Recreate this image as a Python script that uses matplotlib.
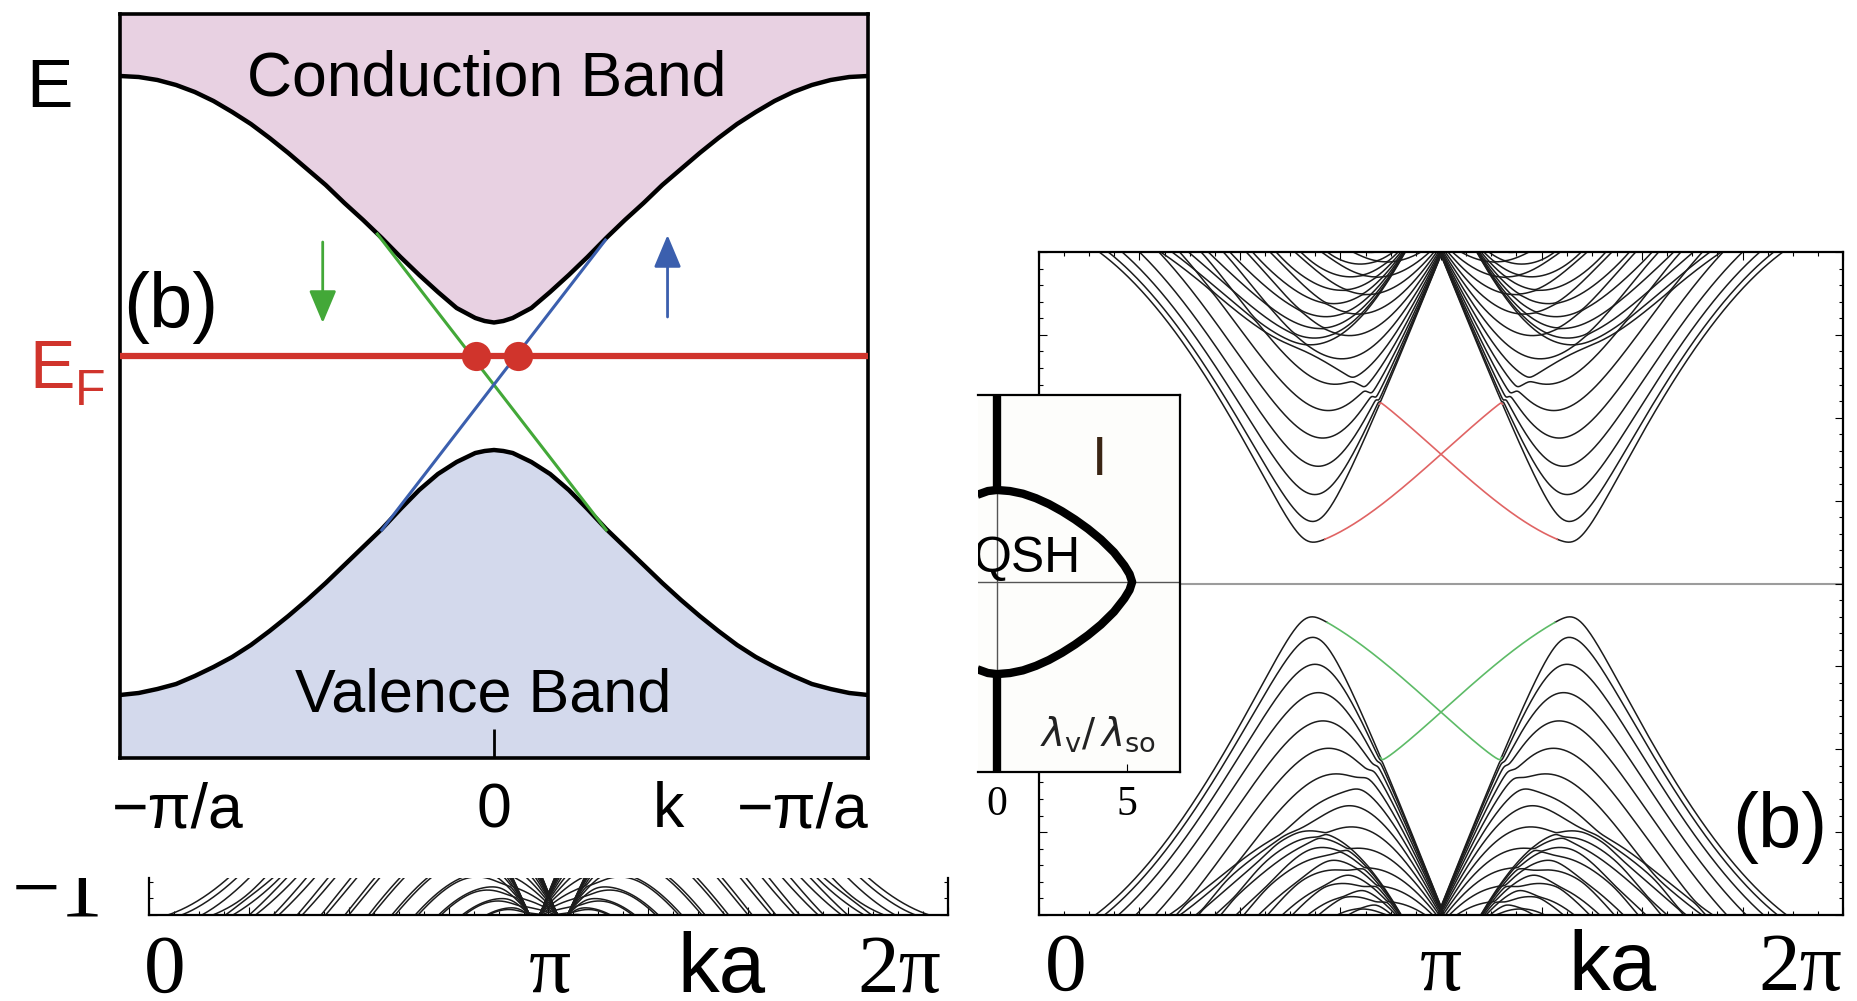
import numpy as np
import matplotlib
matplotlib.use('Agg')
import matplotlib.pyplot as plt
from matplotlib import transforms
from matplotlib.patches import Rectangle
from matplotlib.ticker import MultipleLocator

plt.rcParams['font.family'] = ['Liberation Sans', 'DejaVu Sans']
SERIF = ['Liberation Serif', 'DejaVu Serif']

W, H = 1858, 1001

# ---------------- left panel: schematic bands (k in pi/a, E with midgap = 0)
BAND_K = [-1.0, -0.95, -0.9, -0.85, -0.8, -0.75, -0.7, -0.65, -0.6, -0.55, -0.5,
          -0.45, -0.4, -0.35, -0.3, -0.25, -0.2, -0.15, -0.1, -0.05, -0.025, 0.0,
          0.025, 0.05, 0.1, 0.15, 0.2, 0.25, 0.3, 0.35, 0.4, 0.45, 0.5,
          0.55, 0.6, 0.65, 0.7, 0.75, 0.8, 0.85, 0.9, 0.95, 1.0]
CB_E = [3.10, 3.09, 3.06, 3.01, 2.94, 2.85, 2.74, 2.62, 2.48, 2.33, 2.17,
        2.01, 1.83, 1.66, 1.48, 1.29, 1.11, 0.94, 0.78, 0.68, 0.65, 0.635,
        0.65, 0.68, 0.78, 0.94, 1.11, 1.29, 1.48, 1.66, 1.83, 2.01, 2.17,
        2.33, 2.48, 2.62, 2.74, 2.85, 2.94, 3.01, 3.06, 3.09, 3.10]
VB_E = [-3.09, -3.07, -3.03, -2.98, -2.90, -2.81, -2.71, -2.59, -2.45, -2.30, -2.14,
        -1.97, -1.79, -1.61, -1.43, -1.23, -1.04, -0.88, -0.76, -0.67, -0.65, -0.64,
        -0.65, -0.67, -0.76, -0.88, -1.04, -1.23, -1.43, -1.61, -1.79, -1.97, -2.14,
        -2.30, -2.45, -2.59, -2.71, -2.81, -2.90, -2.98, -3.03, -3.07, -3.09]
E_FERMI = 0.30
GREEN_K = [-0.312, 0.30]
GREEN_E = [1.52, -1.44]
BLUE_K = [-0.30, 0.298]
BLUE_E = [-1.44, 1.46]
DOT_K = [-0.047, 0.063]
GREEN_ARROW = (-0.458, 1.44, 0.63)   # k, start, tip
BLUE_ARROW = (0.464, 0.69, 1.51)
LEFT_XTICK_POS = [-0.845, 0.0, 0.465, 0.826]
LEFT_XTICK_LABELS = ['\u2212\u03c0/a', '0', 'k', '\u2212\u03c0/a']

# ---------------- right panels: Kane-Mele zigzag ribbon
T_HOP = 1.0
LAMBDA_SO = 0.06
LAMBDA_R = 0.05
LAMBDA_V_B = 0.4     # insulating phase, panel (b)
LAMBDA_V_A = 0.1     # QSH phase, panel (a) strip
N_CHAINS = 32
RIGHT_XTICK_POS = [0.21, np.pi, 4.478, 5.947]
STRIP_XTICK_POS = [0.126, 3.15, 4.50, 5.90]
XTICK_LABELS = ['0', '\u03c0', 'ka', '2\u03c0']

# ---------------- inset: phase diagram
INSET_LV = [-0.75, -0.35, 0.0, 0.5, 1.0, 1.5, 2.0, 2.5, 3.0, 3.5, 4.0, 4.5, 4.9, 5.1, 5.2,
            5.1, 4.9, 4.5, 4.0, 3.5, 3.0, 2.5, 2.0, 1.5, 1.0, 0.5, 0.0, -0.35, -0.75]
INSET_LR = [3.28, 3.42, 3.46, 3.42, 3.32, 3.15, 2.93, 2.66, 2.35, 2.00, 1.60, 1.12, 0.62, 0.30, 0.0,
            -0.30, -0.62, -1.12, -1.60, -2.00, -2.35, -2.66, -2.93, -3.15, -3.32, -3.42, -3.46, -3.42, -3.28]
GAPLESS_LR = [3.46, 9.0]

PINK = '#e8d1e2'
LIGHTBLUE = '#d3d9ec'
RED = '#d0342c'
GREEN = '#43a838'
BLUE = '#3b5fae'


def box(x0, y0, x1, y1):
    return [x0 / W, 1 - y1 / H, (x1 - x0) / W, (y1 - y0) / H]


def ribbon_blocks(n_chains, lam_v):
    a1 = np.array([1.0, 0.0])
    a2 = np.array([0.5, np.sqrt(3) / 2])
    b = np.array([0.5, 0.5 / np.sqrt(3)])
    pos = np.array([m * a2 + s * b for m in range(n_chains) for s in (0, 1)])
    stag = np.tile([1.0, -1.0], n_chains)
    ns = len(pos)
    s0 = np.eye(2, dtype=complex)
    sx = np.array([[0, 1], [1, 0]], dtype=complex)
    sy = np.array([[0, -1j], [1j, 0]])
    sz = np.array([[1, 0], [0, -1]], dtype=complex)
    nn = [[] for _ in range(ns)]
    for i in range(ns):
        for j in range(ns):
            if abs(pos[j, 1] - pos[i, 1]) > 0.7:
                continue
            for n in (-1, 0, 1):
                d = pos[j] + n * a1 - pos[i]
                if abs(np.hypot(d[0], d[1]) - 1 / np.sqrt(3)) < 1e-6:
                    nn[i].append((j, n, d * np.sqrt(3)))
    blocks = {n: np.zeros((2 * ns, 2 * ns), dtype=complex) for n in range(-2, 3)}

    def add(i, j, n, m):
        blocks[n][2 * i:2 * i + 2, 2 * j:2 * j + 2] += m

    for i in range(ns):
        add(i, i, 0, lam_v * stag[i] * s0)
        for j, n, d in nn[i]:
            add(i, j, n, T_HOP * s0 + 1j * LAMBDA_R * (sx * d[1] - sy * d[0]))
            for l, n2, d2 in nn[j]:
                if l == i and n + n2 == 0:
                    continue
                nu = np.sign(d[0] * d2[1] - d[1] * d2[0])
                add(i, l, n + n2, 1j * LAMBDA_SO * nu * sz)
    return blocks


def ribbon_bands(n_chains, lam_v, ka):
    blocks = ribbon_blocks(n_chains, lam_v)
    dim = 4 * n_chains
    edge = np.r_[0:8, dim - 8:dim]
    ens, wts = [], []
    for k in ka:
        h = sum(bl * np.exp(1j * k * n) for n, bl in blocks.items())
        e, v = np.linalg.eigh(h)
        ens.append(e)
        wts.append((np.abs(v[edge]) ** 2).sum(axis=0))
    return np.array(ens), np.array(wts)


fig = plt.figure(figsize=(W / 100, H / 100), dpi=100)

# ================= left panel
ax = fig.add_axes(box(120, 14, 868, 758))
ax.set_xlim(-1, 1)
ax.set_ylim(-3.72, 3.72)
top, bot = ax.get_ylim()[1], ax.get_ylim()[0]
ax.fill_between(BAND_K, CB_E, top, color=PINK, lw=0, zorder=1)
ax.fill_between(BAND_K, VB_E, bot, color=LIGHTBLUE, lw=0, zorder=1)
ax.plot(BAND_K, CB_E, color='black', lw=3.2, zorder=2)
ax.plot(BAND_K, VB_E, color='black', lw=3.2, zorder=2)
ax.plot(GREEN_K, GREEN_E, color=GREEN, lw=2.2, zorder=3)
ax.plot(BLUE_K, BLUE_E, color=BLUE, lw=2.2, zorder=3)
ax.axhline(E_FERMI, color=RED, lw=4.5, zorder=4)
ax.plot(DOT_K, [E_FERMI] * len(DOT_K), 'o', ms=21, color=RED, mec='none', zorder=5)
for (k, e0, e1), c in ((GREEN_ARROW, GREEN), (BLUE_ARROW, BLUE)):
    ax.annotate('', xy=(k, e1), xytext=(k, e0),
                arrowprops=dict(arrowstyle='-|>,head_length=1.0,head_width=0.42',
                                color=c, lw=2, mutation_scale=20, shrinkA=0, shrinkB=0))
ax.text(-0.02, 2.91, 'Conduction Band', fontsize=45, ha='center', va='baseline', zorder=6)
ax.text(-0.03, -3.26, 'Valence Band', fontsize=44, ha='center', va='baseline', zorder=6)
for s in ax.spines.values():
    s.set_linewidth(2.6)
ax.set_xticks([0])
ax.set_xticklabels([])
ax.set_yticks([])
ax.tick_params(axis='x', direction='in', length=21, width=2)
ltr = transforms.blended_transform_factory(ax.transData, fig.transFigure)
for x, lab in zip(LEFT_XTICK_POS, LEFT_XTICK_LABELS):
    fig.text(x, 1 - 827 / H, lab, transform=ltr, fontsize=45, ha='center', va='baseline')

fig.text(49 / W, 1 - 107 / H, 'E', fontsize=50, ha='center', va='baseline')
fig.text(29 / W, 1 - 388 / H, 'E', fontsize=49, ha='left', va='baseline', color=RED)
fig.text(75 / W, 1 - 405 / H, 'F', fontsize=36, ha='left', va='baseline', color=RED)
fig.text(171 / W, 1 - 328 / H, '(b)', fontsize=56, ha='center', va='baseline')

# ================= right panel (b)
ka = np.linspace(0, 2 * np.pi, 721)
eb, wb = ribbon_bands(N_CHAINS, LAMBDA_V_B, ka)
nb = eb.shape[1] // 2

axr = fig.add_axes(box(1039, 252, 1843, 915))
axr.set_xlim(0, 2 * np.pi)
axr.set_ylim(-1, 1)
axr.axhline(0, color='#9c9c9c', lw=1.5, zorder=1)
for b in range(eb.shape[1]):
    e = eb[:, b]
    if b in (nb - 2, nb - 1, nb, nb + 1):
        edge = wb[:, b] > 0.38
        grow = edge | np.r_[edge[1:], False] | np.r_[False, edge[:-1]]
        axr.plot(ka, np.where(edge, np.nan, e), color='#1c1c1c', lw=1.1)
        axr.plot(ka, np.where(grow, e, np.nan), color='#e06464' if b >= nb else '#5dbb67', lw=1.2)
    else:
        axr.plot(ka, e, color='#1c1c1c', lw=1.1)
for s in axr.spines.values():
    s.set_linewidth(1.6)
axr.xaxis.set_major_locator(MultipleLocator(np.pi / 4))
axr.xaxis.set_minor_locator(MultipleLocator(np.pi / 16))
axr.yaxis.set_major_locator(MultipleLocator(0.25))
axr.yaxis.set_minor_locator(MultipleLocator(0.05))
axr.tick_params(which='both', direction='in', top=True, right=True,
                labelbottom=False, labelleft=False, width=0.8)
axr.tick_params(which='major', length=6)
axr.tick_params(which='minor', length=3)
rtr = transforms.blended_transform_factory(axr.transData, fig.transFigure)
for x, lab in zip(RIGHT_XTICK_POS, XTICK_LABELS):
    fig.text(x, 1 - 990 / H, lab, transform=rtr, fontsize=60, ha='center', va='baseline',
             family=['Liberation Sans'] if lab == 'ka' else SERIF)
fig.text(1780 / W, 1 - 848 / H, '(b)', fontsize=56, ha='center', va='baseline')

# ================= strip of panel (a)
ea, _ = ribbon_bands(N_CHAINS, LAMBDA_V_A, ka)
axs = fig.add_axes(box(149, 878, 948, 915))
axs.set_xlim(0, 2 * np.pi)
axs.set_ylim(-1, -1 + 37 / 331.5)
for b in range(ea.shape[1]):
    axs.plot(ka, ea[:, b], color='#1c1c1c', lw=1.1)
axs.spines['top'].set_visible(False)
for s in ('left', 'right', 'bottom'):
    axs.spines[s].set_linewidth(1.6)
axs.xaxis.set_major_locator(MultipleLocator(np.pi / 4))
axs.xaxis.set_minor_locator(MultipleLocator(np.pi / 16))
axs.yaxis.set_major_locator(MultipleLocator(0.25))
axs.yaxis.set_minor_locator(MultipleLocator(0.05))
axs.tick_params(which='both', direction='in', right=True,
                labelbottom=False, labelleft=False, width=0.8)
axs.tick_params(which='major', length=6)
axs.tick_params(which='minor', length=3)
str_ = transforms.blended_transform_factory(axs.transData, fig.transFigure)
for x, lab in zip(STRIP_XTICK_POS, XTICK_LABELS):
    fig.text(x, 1 - 992 / H, lab, transform=str_, fontsize=60, ha='center', va='baseline',
             family=['Liberation Sans'] if lab == 'ka' else SERIF)
m1 = fig.text(58 / W, 1 - 915 / H, '\u22121', fontsize=62, ha='center', va='baseline', family=SERIF)
m1.set_clip_path(Rectangle((0, 0), 1, 1 - 878 / H, transform=fig.transFigure))

# ================= inset phase diagram
axi = fig.add_axes(box(978, 395, 1180, 772), zorder=5)
axi.set_facecolor('#fdfdfb')
axi.set_xlim(-0.73, 7.04)
axi.set_ylim(-7.14, 7.03)
axi.axhline(0, color='#555555', lw=1.0)
axi.axvline(0, color='#555555', lw=1.0)
axi.plot(INSET_LV, INSET_LR, color='black', lw=6, solid_capstyle='butt')
axi.plot([0, 0], GAPLESS_LR, color='black', lw=6, solid_capstyle='butt')
axi.plot([0, 0], [-v for v in GAPLESS_LR], color='black', lw=6, solid_capstyle='butt')
axi.spines['left'].set_visible(False)
for s in ('top', 'right', 'bottom'):
    axi.spines[s].set_linewidth(1.6)
axi.set_yticks([])
axi.set_xticks([0, 5])
axi.set_xticklabels(['0', '5'], family=SERIF, fontsize=30)
axi.tick_params(axis='x', direction='in', length=6, width=0.8, pad=10)
axi.text(3.96, 4.55, 'I', fontsize=40, ha='center', va='center', color='#3a2514')
axi.text(-0.95, 0.38, 'QSH', fontsize=36, ha='left', va='baseline', clip_on=True)
axi.text(3.88, -5.71, r'$\lambda_{\rm v}/\,\lambda_{\rm so}$', fontsize=28,
         ha='center', va='center', color='#222222')

fig.savefig('out.png', dpi=100)
